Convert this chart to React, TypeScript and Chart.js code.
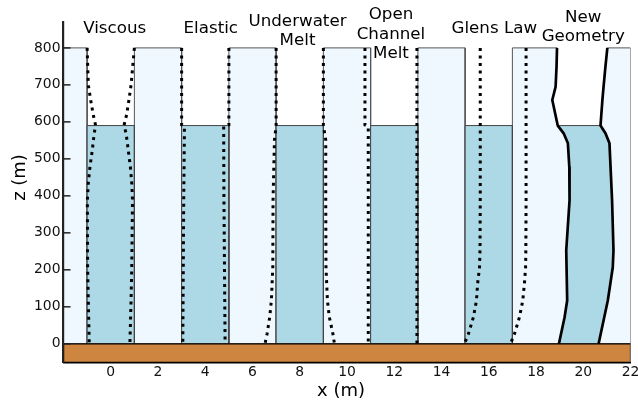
import { useEffect, useRef } from "react";
import { Chart, registerables } from "chart.js";

Chart.register(...registerables);

// ---- axes ----
const xTicks = [0, 2, 4, 6, 8, 10, 12, 14, 16, 18, 20, 22];
const yTicks = [0, 100, 200, 300, 400, 500, 600, 700, 800];
const xLimits = [-2, 22];
const yLimits = [-50, 870];

// ---- geometry ----
const iceTop = 800;
const waterLevel = 590;
const bedBottom = -50;
const iceBlocks = [[-2, -1], [1, 3], [5, 7], [9, 11], [13, 15]];
const waterChannels = [[-1, 1], [3, 5], [7, 9], [11, 13], [15, 17]];
const lastIceLeft = 17;
const lastIceRight = 22;

// ---- dotted wall profiles (z top -> bottom) ----
const viscousZ = [800, 700, 659, 619, 590, 569, 524, 479, 434, 389, 208, 118, 0];
const viscousLeftX = [-1.0, -0.95, -0.85, -0.74, -0.64, -0.7, -0.78, -0.88, -0.95, -0.99, -0.98, -0.95, -0.91];
const viscousRightX = [1.0, 0.86, 0.77, 0.67, 0.56, 0.65, 0.74, 0.83, 0.89, 0.92, 0.89, 0.86, 0.81];

const elasticZ = [800, 592, 588, 400, 0];
const elasticLeftX = [3.0, 3.0, 3.12, 3.09, 3.05];
const elasticRightX = [5.0, 5.0, 4.78, 4.79, 4.84];

const underwaterZ = [800, 590, 551, 389, 208, 118, 73, 28, 0];
const underwaterLeftX = [7.0, 7.0, 6.93, 6.87, 6.86, 6.8, 6.73, 6.62, 6.53];
const underwaterRightX = [9.0, 9.0, 9.1, 9.1, 9.11, 9.17, 9.25, 9.4, 9.47];

const openLeftZ = [800, 592, 587, 0];
const openLeftX = [10.76, 10.76, 10.9, 10.9];
const openRightZ = [800, 0];
const openRightX = [12.96, 12.96];

const glensZ = [800, 388, 253, 207, 163, 117, 72, 27, 0];
const glensLeftX = [15.64, 15.64, 15.63, 15.61, 15.53, 15.48, 15.35, 15.14, 14.97];
const glensRightX = [17.58, 17.58, 17.57, 17.56, 17.51, 17.44, 17.3, 17.09, 16.92];

// ---- new geometry (solid) ----
const newLeftZ = [800, 750, 695, 659, 632, 590, 569, 542, 478, 388, 253, 117, 72, 0];
const newLeftX = [18.89, 18.87, 18.83, 18.69, 18.78, 18.92, 19.17, 19.35, 19.41, 19.42, 19.28, 19.32, 19.21, 18.97];
const newRightZ = [800, 750, 695, 659, 590, 569, 542, 388, 253, 207, 117, 0];
const newRightX = [21.02, 20.94, 20.86, 20.81, 20.73, 20.94, 21.11, 21.22, 21.28, 21.25, 21.04, 20.65];

// ---- labels ----
const caseNames = [["Viscous"], ["Elastic"], ["Underwater", "Melt"], ["Open", "Channel", "Melt"], ["Glens Law"], ["New", "Geometry"]];
const caseLabelX = [0.167, 4.235, 7.905, 11.86, 16.235, 20.0];
const caseLabelZ = [839, 840, 860, 878, 839.5, 871];
const xTitle = "x (m)";
const yTitle = "z (m)";

// ---- styles ----
const FONT = "'DejaVu Sans'";
const iceStyle = { backgroundColor: "#f0f8ff", borderColor: "#555555", borderWidth: 1, fill: "shape" };
const waterStyle = { backgroundColor: "#add8e6", borderColor: "#444444", borderWidth: 1, fill: "shape" };
const groundStyle = { backgroundColor: "#cd853f", borderColor: "#000000", borderWidth: 1.2, fill: "shape" };
const dotStyle = { borderColor: "#000000", borderWidth: 3, borderDash: [3, 4.5], fill: false, borderCapStyle: "butt" };
const solidStyle = { borderColor: "#000000", borderWidth: 2.7, fill: false, borderJoinStyle: "round" };

type P = { x: number; y: number };
const pts = (xs: number[], zs: number[]): P[] => xs.map((x, i) => ({ x, y: zs[i] }));
const rect = (x0: number, x1: number, y0: number, y1: number): P[] => [
  { x: x0, y: y0 }, { x: x0, y: y1 }, { x: x1, y: y1 }, { x: x1, y: y0 }, { x: x0, y: y0 },
];

function buildDatasets() {
  const ds: any[] = [];
  const add = (data: P[], style: any) => ds.push({ data, pointRadius: 0, tension: 0, borderJoinStyle: "miter", ...style });

  iceBlocks.forEach(([a, b]) => add(rect(a, b, 0, iceTop), iceStyle));
  const leftWall = pts(newLeftX, newLeftZ);
  const rightWall = pts(newRightX, newRightZ);
  add([{ x: lastIceLeft, y: 0 }, { x: lastIceLeft, y: iceTop }, ...leftWall, { x: lastIceLeft, y: 0 }], iceStyle);
  add([...rightWall, { x: lastIceRight, y: 0 }, { x: lastIceRight, y: iceTop }, rightWall[0]], iceStyle);

  waterChannels.forEach(([a, b]) => add(rect(a, b, 0, waterLevel), waterStyle));
  const wl = leftWall.filter((p) => p.y <= waterLevel);
  const wr = rightWall.filter((p) => p.y <= waterLevel).reverse();
  add([...wl, ...wr, wl[0]], waterStyle);

  add(rect(xLimits[0], xLimits[1], bedBottom, 0), groundStyle);

  add(pts(viscousLeftX, viscousZ), dotStyle);
  add(pts(viscousRightX, viscousZ), dotStyle);
  add(pts(elasticLeftX, elasticZ), dotStyle);
  add(pts(elasticRightX, elasticZ), dotStyle);
  add(pts(underwaterLeftX, underwaterZ), dotStyle);
  add(pts(underwaterRightX, underwaterZ), dotStyle);
  add(pts(openLeftX, openLeftZ), dotStyle);
  add(pts(openRightX, openRightZ), dotStyle);
  add(pts(glensLeftX, glensZ), dotStyle);
  add(pts(glensRightX, glensZ), dotStyle);

  add(leftWall, solidStyle);
  add(rightWall, solidStyle);

  ds.forEach((d, i) => (d.order = ds.length - i));
  return ds;
}

const overlayPlugin = {
  id: "overlay",
  afterDraw(chart: any) {
    const { ctx, chartArea } = chart;
    const xs = chart.scales.x;
    const ys = chart.scales.y;
    ctx.save();
    ctx.strokeStyle = "#222222";
    ctx.lineWidth = 1.5;
    yTicks.forEach((v) => {
      const py = ys.getPixelForValue(v);
      ctx.beginPath();
      ctx.moveTo(chartArea.left, py);
      ctx.lineTo(chartArea.left + 7, py);
      ctx.stroke();
    });
    ctx.fillStyle = "#000000";
    ctx.textAlign = "center";
    ctx.textBaseline = "alphabetic";
    ctx.font = `16.7px ${FONT}`;
    caseNames.forEach((lines, i) => {
      const px = xs.getPixelForValue(caseLabelX[i]);
      const py = ys.getPixelForValue(caseLabelZ[i]);
      lines.forEach((t, j) => ctx.fillText(t, px, py + j * 19.7));
    });
    ctx.font = `18px ${FONT}`;
    ctx.fillText(xTitle, 341, 395.5);
    ctx.translate(25, 177.5);
    ctx.rotate(-Math.PI / 2);
    ctx.fillText(yTitle, 0, 0);
    ctx.restore();
  },
};

export default function App() {
  const ref = useRef<HTMLCanvasElement>(null);
  useEffect(() => {
    const chart = new Chart(ref.current as HTMLCanvasElement, {
      type: "line",
      data: { datasets: buildDatasets() },
      options: {
        responsive: false,
        animation: false,
        devicePixelRatio: 1,
        events: [],
        layout: { padding: { left: 0, top: 22, right: 7.5, bottom: 0 } },
        plugins: { legend: { display: false }, tooltip: { enabled: false } },
        scales: {
          x: {
            type: "linear",
            min: xLimits[0],
            max: xLimits[1],
            afterBuildTicks: (s: any) => { s.ticks = xTicks.map((v) => ({ value: v })); },
            afterFit: (s: any) => { s.height = 38.7; s.paddingLeft = 0; s.paddingRight = 0; },
            grid: { drawOnChartArea: false, drawTicks: false },
            border: { display: true, color: "#000000", width: 1.5, z: 1 },
            ticks: { autoSkip: false, maxRotation: 0, padding: 2, color: "#111111", font: { family: FONT, size: 13.9 } },
          },
          y: {
            type: "linear",
            min: yLimits[0],
            max: yLimits[1],
            afterBuildTicks: (s: any) => { s.ticks = yTicks.map((v) => ({ value: v })); },
            afterFit: (s: any) => { s.width = 63.5; s.paddingTop = 0; s.paddingBottom = 0; },
            grid: { drawOnChartArea: false, drawTicks: false },
            border: { display: true, color: "#222222", width: 2.2, z: 1 },
            ticks: { autoSkip: false, padding: 3, color: "#111111", font: { family: FONT, size: 13.9 } },
          },
        },
      } as any,
      plugins: [overlayPlugin],
    } as any);
    return () => chart.destroy();
  }, []);
  return (
    <div style={{ position: "absolute", left: 0, top: 0, width: 638, height: 401, background: "#ffffff" }}>
      <canvas ref={ref} width={638} height={401} style={{ display: "block", width: 638, height: 401 }} />
    </div>
  );
}
